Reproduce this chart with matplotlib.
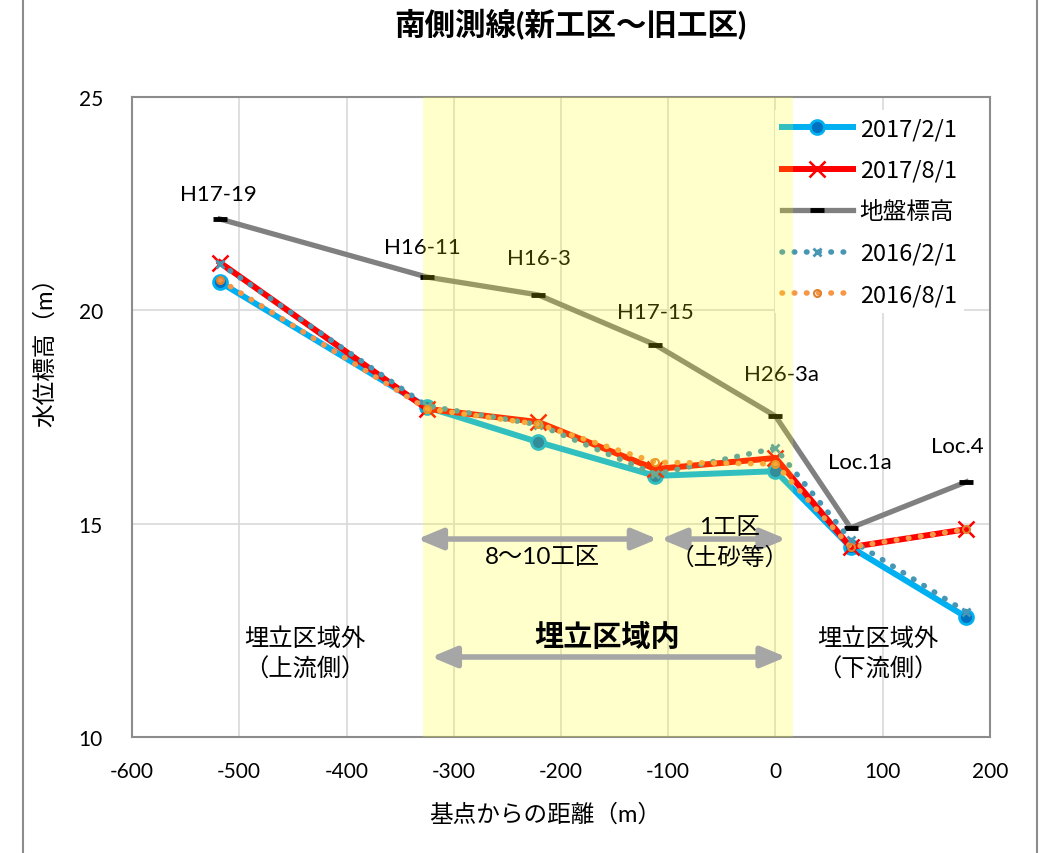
import matplotlib
matplotlib.use('Agg')
import matplotlib.pyplot as plt
from matplotlib.lines import Line2D

plt.rcParams['font.family'] = ['Lato', 'Noto Sans CJK JP', 'DejaVu Sans']
plt.rcParams['axes.unicode_minus'] = False

# distance from base point (m) and well names
dist = [-518, -325, -221, -112, 0, 70, 178]
wells = ['H17-19', 'H16-11', 'H16-3', 'H17-15', 'H26-3a', 'Loc.1a', 'Loc.4']

# water level elevation (m)
wl_2017_02 = [20.66, 17.73, 16.91, 16.12, 16.23, 14.45, 12.81]
wl_2017_08 = [21.12, 17.69, 17.38, 16.28, 16.54, 14.45, 14.87]
ground = [22.14, 20.78, 20.36, 19.19, 17.52, 14.90, 15.98]
wl_2016_02 = [21.09, 17.76, 17.32, 16.16, 16.77, 14.62, 12.93]
wl_2016_08 = [20.71, 17.69, 17.33, 16.44, 16.40, 14.45, 14.87]

fig = plt.figure(figsize=(10.48, 8.54), dpi=100)
ax = fig.add_axes([132/1048, 1-738/854, 858/1048, 640/854])

ax.plot(dist, wl_2017_02, color='#00B0F0', lw=4.3, marker='o', ms=10,
        mfc='#0070C0', mec='#00B0F0', mew=2, label='2017/2/1', zorder=3)
ax.plot(dist, wl_2017_08, color='#FF0000', lw=4.3, marker='x', ms=11,
        mew=1.8, mec='#FF0000', label='2017/8/1', zorder=3.1)
ax.plot(dist, ground, color='#808080', lw=3.8, marker='_', ms=10,
        mew=3.5, mec='black', label='地盤標高', zorder=3.2)
ax.plot(dist, wl_2016_02, color='#4696B4', lw=4, ls=(0, (0.1, 2.1)),
        dash_capstyle='round', marker='x', ms=6, mew=2,
        label='2016/2/1', zorder=3.3)
ax.plot(dist, wl_2016_08, color='#F79646', lw=4, ls=(0, (0.1, 2.1)),
        dash_capstyle='round', marker='o', ms=5, mfc='none', mec='#E0812F',
        mew=1.5, label='2016/8/1', zorder=3.4)

# well names above ground points
offsets = [(-2, 25), (-5, 30), (0, 37), (0, 33), (6, 42), (9, 66), (-9, 36)]
for x, g, name, off in zip(dist, ground, wells, offsets):
    ax.annotate(name, (x, g), xytext=off, textcoords='offset pixels',
                ha='center', va='center', fontsize=16, zorder=4)

ax.set_xlim(-600, 200)
ax.set_ylim(10, 25)
ax.set_xticks(range(-600, 201, 100))
ax.set_yticks([10, 15, 20, 25])
ax.tick_params(length=0, labelsize=15)
ax.tick_params(axis='x', pad=17)
ax.tick_params(axis='y', pad=21)
ax.grid(True, color='#D9D9D9', lw=1.2, zorder=0)
ax.set_axisbelow(True)
for s in ax.spines.values():
    s.set_color('#8C8C8C')
    s.set_linewidth(1.5)

leg = ax.legend(loc='upper left', bbox_to_anchor=(0.749, 0.979),
                prop={'family': ['Noto Sans CJK JP'], 'size': 17},
                handlelength=3.0, handletextpad=0.3, labelspacing=0.78,
                borderpad=0.3, borderaxespad=0, frameon=True,
                fancybox=False, edgecolor='none', facecolor='white',
                framealpha=1, numpoints=1)
leg.set_zorder(5)

# landfill area shading (drawn over lines and legend)
ax.axvspan(-329, 16, color='#FFFF00', alpha=0.2, lw=0, zorder=6)

arrow = dict(arrowstyle='<|-|>,head_length=0.6,head_width=0.25',
             color='#A6A6A6', lw=4, mutation_scale=25, shrinkA=0, shrinkB=0)
ax.annotate('', xy=(-110, 14.64), xytext=(-334, 14.64), arrowprops=arrow, zorder=7)
ax.annotate('', xy=(10, 14.64), xytext=(-107, 14.64), arrowprops=arrow, zorder=7)
ax.annotate('', xy=(10, 11.875), xytext=(-321, 11.875), arrowprops=arrow, zorder=7)

ax.text(-217, 14.24, '8～10工区', ha='center', va='center', fontsize=17.5, zorder=7)
ax.text(-43, 14.57, '1工区\n（土砂等）', ha='center', va='center', fontsize=17,
        linespacing=1.45, zorder=7)
ax.text(-157, 12.37, '埋立区域内', ha='center', va='center', fontsize=21,
        fontweight='bold', zorder=7)
ax.text(-439, 11.97, '埋立区域外\n（上流側）', ha='center', va='center',
        fontsize=17.5, linespacing=1.4, zorder=7)
ax.text(95, 11.97, '埋立区域外\n（下流側）', ha='center', va='center',
        fontsize=17.5, linespacing=1.4, zorder=7)

fig.text(570/1048, 1-25/854, '南側測線(新工区～旧工区)', ha='center', va='center',
         fontsize=22, fontweight='bold')
fig.text(45/1048, 1-346/854, '水位標高（m）', rotation=90, ha='center',
         va='center', fontsize=17)
fig.text(545/1048, 1-815/854, '基点からの距離（m）', ha='center', va='center',
         fontsize=17)

# chart area border (left and right edges)
for xp in (23, 1037):
    fig.add_artist(Line2D([xp/1048, xp/1048], [0, 1], transform=fig.transFigure,
                          color='#8C8C8C', lw=1.5))

fig.savefig('out.png', dpi=100)
